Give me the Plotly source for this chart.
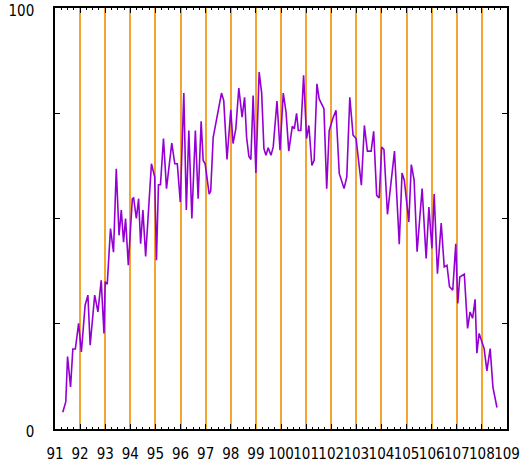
import plotly.graph_objects as go

# Series sampled as (year, value) pairs
years = [
    91.31, 91.43, 91.50, 91.62, 91.71, 91.81, 91.94, 92.05, 92.20, 92.31,
    92.40, 92.58, 92.71, 92.84, 92.95, 93.00, 93.08, 93.21, 93.33, 93.44,
    93.55, 93.64, 93.73, 93.81, 93.92, 94.08, 94.13, 94.24, 94.33, 94.41,
    94.50, 94.61, 94.84, 94.97, 95.04, 95.12, 95.20, 95.32, 95.44, 95.65,
    95.77, 95.87, 95.99, 96.13, 96.23, 96.33, 96.45, 96.59, 96.70, 96.82,
    96.90, 96.98, 97.14, 97.20, 97.30, 97.43, 97.49, 97.63, 97.72, 97.85,
    98.00, 98.09, 98.20, 98.32, 98.45, 98.55, 98.63, 98.72, 98.80, 98.89,
    99.00, 99.13, 99.23, 99.32, 99.40, 99.49, 99.60, 99.69, 99.84, 99.96,
    100.09, 100.20, 100.31, 100.45, 100.53, 100.62, 100.69, 100.79, 100.90, 101.02,
    101.11, 101.23, 101.32, 101.43, 101.52, 101.71, 101.82, 101.92, 102.06, 102.19,
    102.32, 102.51, 102.62, 102.74, 102.87, 102.99, 103.20, 103.32, 103.44, 103.59,
    103.69, 103.81, 103.91, 104.01, 104.10, 104.24, 104.52, 104.71, 104.82, 104.91,
    105.09, 105.19, 105.30, 105.42, 105.62, 105.78, 105.89, 106.01, 106.10, 106.23,
    106.38, 106.50, 106.61, 106.71, 106.84, 106.96, 107.04, 107.12, 107.30, 107.43,
    107.53, 107.63, 107.73, 107.80, 107.89, 108.09, 108.20, 108.33, 108.44, 108.60,
]
values = [
    4.0, 6.5, 17.2, 10.0, 19.0, 19.0, 25.1, 18.3, 29.4, 31.8,
    19.9, 31.8, 27.8, 35.3, 22.7, 35.0, 34.4, 47.6, 42.0, 61.8,
    46.0, 52.0, 44.4, 50.0, 38.9, 54.7, 54.9, 50.0, 54.7, 44.0,
    52.0, 41.0, 63.0, 59.9, 40.1, 58.0, 58.0, 69.0, 57.1, 67.9,
    63.0, 63.0, 53.9, 79.8, 52.0, 70.9, 50.0, 70.9, 54.7, 73.1,
    63.8, 63.0, 55.8, 56.5, 69.3, 73.3, 74.9, 79.8, 78.0, 64.0,
    75.8, 67.8, 71.3, 81.0, 74.1, 78.8, 69.3, 64.8, 64.0, 79.2,
    60.8, 84.8, 79.8, 66.6, 65.0, 66.8, 65.0, 67.0, 77.9, 66.2,
    79.8, 75.3, 66.0, 71.9, 71.3, 75.0, 70.9, 70.9, 84.0, 69.0,
    72.1, 62.6, 63.8, 82.0, 78.4, 76.1, 57.1, 70.9, 73.7, 75.7,
    60.7, 57.1, 59.9, 78.8, 69.8, 69.0, 57.9, 72.1, 66.0, 66.0,
    70.7, 55.5, 54.9, 67.0, 66.4, 51.0, 66.0, 43.9, 60.8, 59.1,
    49.2, 62.8, 59.2, 42.1, 57.1, 40.5, 52.7, 42.9, 55.8, 36.9,
    48.9, 38.5, 38.9, 33.8, 33.0, 44.0, 29.8, 36.1, 36.8, 23.9,
    27.8, 26.3, 30.8, 18.0, 22.7, 19.1, 13.8, 19.1, 9.9, 5.1,
]

x_ticks = list(range(91, 110))
x_labels = [str(v) for v in x_ticks]
y_ticks = [0, 25, 50, 75, 100]
y_labels = ["0", "", "", "", "100"]

label_font = dict(
    family="Liberation Sans Narrow, Arial Narrow, DejaVu Sans Condensed, Liberation Sans, Arial",
    size=15,
    color="#000000",
)

fig = go.Figure()
fig.add_trace(
    go.Scatter(
        x=years,
        y=values,
        mode="lines",
        line=dict(color="#9400D3", width=1.6),
        showlegend=False,
        hoverinfo="skip",
    )
)

fig.update_layout(
    width=530,
    height=462,
    margin=dict(l=55, r=23, t=8, b=33),
    paper_bgcolor="white",
    plot_bgcolor="white",
    font=label_font,
)

fig.update_xaxes(
    range=[91, 109],
    tickmode="array",
    tickvals=x_ticks,
    ticktext=x_labels,
    tickangle=0,
    ticks="inside",
    ticklen=5,
    tickwidth=1,
    tickcolor="black",
    minor=dict(dtick=0.25, ticks="inside", ticklen=2.5, tickwidth=1, tickcolor="black", showgrid=False),
    showgrid=True,
    gridcolor="#F2A630",
    gridwidth=1.5,
    showline=True,
    linecolor="black",
    linewidth=1.5,
    mirror="ticks",
    zeroline=False,
    tickfont=label_font,
    ticklabelstandoff=10,
    ticklabeloverflow="allow",
    automargin=False,
)

fig.update_yaxes(
    range=[0, 100],
    tickmode="array",
    tickvals=y_ticks,
    ticktext=y_labels,
    ticks="inside",
    ticklen=5,
    tickwidth=1,
    tickcolor="black",
    showgrid=False,
    showline=True,
    linecolor="black",
    linewidth=1.5,
    mirror="ticks",
    zeroline=False,
    tickfont=label_font,
    ticklabelstandoff=16,
    ticklabelshift=3,
    ticklabeloverflow="allow",
    automargin=False,
)

fig.write_html("out.html")
